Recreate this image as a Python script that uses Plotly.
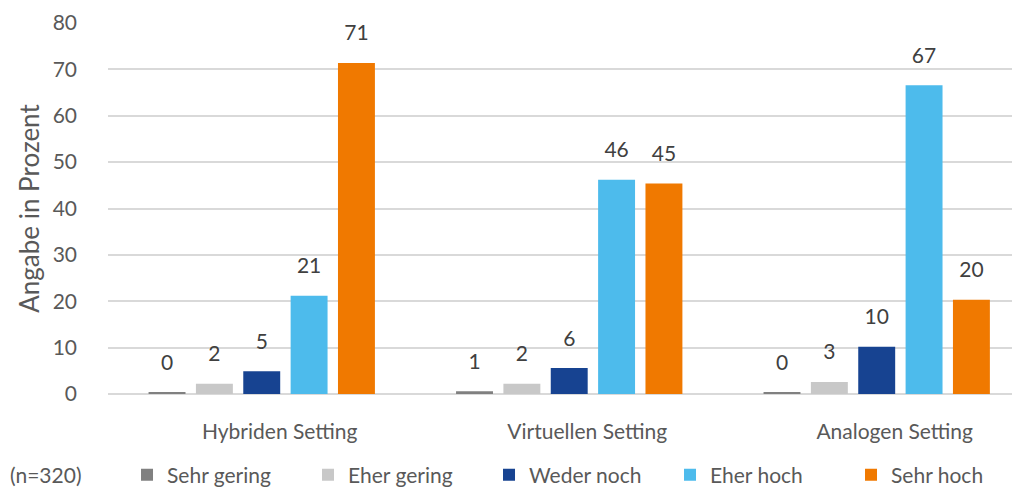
import plotly.graph_objects as go

# categories and series, values in percent (n=320)
CATEGORIES = ["Hybriden Setting", "Virtuellen Setting", "Analogen Setting"]
SERIES = ["Sehr gering", "Eher gering", "Weder noch", "Eher hoch", "Sehr hoch"]
SEHR_GERING = [0.3, 0.6, 0.3]
EHER_GERING = [2.2, 2.2, 2.6]
WEDER_NOCH = [4.9, 5.6, 10.2]
EHER_HOCH = [21.2, 46.2, 66.6]
SEHR_HOCH = [71.4, 45.4, 20.3]
SAMPLE_NOTE = "(n=320)"
Y_TITLE = "Angabe in Prozent"

VALUES = [SEHR_GERING, EHER_GERING, WEDER_NOCH, EHER_HOCH, SEHR_HOCH]
COLORS = ["#808080", "#c8c8c8", "#174391", "#4dbbec", "#f07900"]

FONT = "Lato"
TEXT_COLOR = "#595959"
LABEL_COLOR = "#404040"
GRID_COLOR = "#d9d9d9"
BAR_GAP = 0.23

# the page body keeps its 8px margin, so the figure is 8px smaller
fig = go.Figure()

for name, vals, color in zip(SERIES, VALUES, COLORS):
    fig.add_trace(
        go.Bar(
            x=CATEGORIES,
            y=vals,
            name=name,
            marker=dict(color=color, line=dict(width=0)),
        )
    )

# data labels, placed over the bars with grouped scatter
for name, vals in zip(SERIES, VALUES):
    fig.add_trace(
        go.Scatter(
            x=CATEGORIES,
            y=vals,
            mode="markers+text",
            text=[f"{v:.0f}" for v in vals],
            textposition="top center",
            textfont=dict(family=FONT, size=21, color=LABEL_COLOR),
            marker=dict(size=26, opacity=0),
            showlegend=False,
            hoverinfo="skip",
            cliponaxis=False,
        )
    )

fig.add_annotation(
    text=SAMPLE_NOTE,
    xref="paper",
    yref="paper",
    x=-0.1096,
    y=-0.2167,
    xanchor="left",
    yanchor="middle",
    showarrow=False,
    font=dict(family=FONT, size=21, color=TEXT_COLOR),
)

fig.update_layout(
    width=1012,
    height=481,
    margin=dict(l=100, r=0, t=15, b=94.5),
    plot_bgcolor="white",
    paper_bgcolor="white",
    font=dict(family=FONT, size=21, color=TEXT_COLOR),
    barmode="group",
    bargap=BAR_GAP,
    bargroupgap=0.22,
    scattermode="group",
    scattergap=BAR_GAP,
    legend=dict(
        orientation="h",
        xref="container",
        yref="container",
        x=0.1176,
        y=0.029,
        xanchor="left",
        yanchor="middle",
        entrywidth=136,
        font=dict(family=FONT, size=21, color=TEXT_COLOR),
    ),
    xaxis=dict(
        range=[-0.5, 2.466],
        automargin=False,
        showline=False,
        ticks="",
        ticklabelshift=18,
        ticklabelstandoff=23,
        tickfont=dict(family=FONT, size=21, color=TEXT_COLOR),
    ),
    yaxis=dict(
        range=[0, 80],
        dtick=10,
        automargin=False,
        showgrid=True,
        gridcolor=GRID_COLOR,
        gridwidth=1.5,
        zeroline=True,
        zerolinecolor=GRID_COLOR,
        zerolinewidth=1.5,
        ticks="",
        ticklabelstandoff=30,
        tickfont=dict(family=FONT, size=21, color=TEXT_COLOR),
        title=dict(text=Y_TITLE, standoff=5, font=dict(family=FONT, size=26, color=TEXT_COLOR)),
    ),
)

fig.write_html("out.html")
